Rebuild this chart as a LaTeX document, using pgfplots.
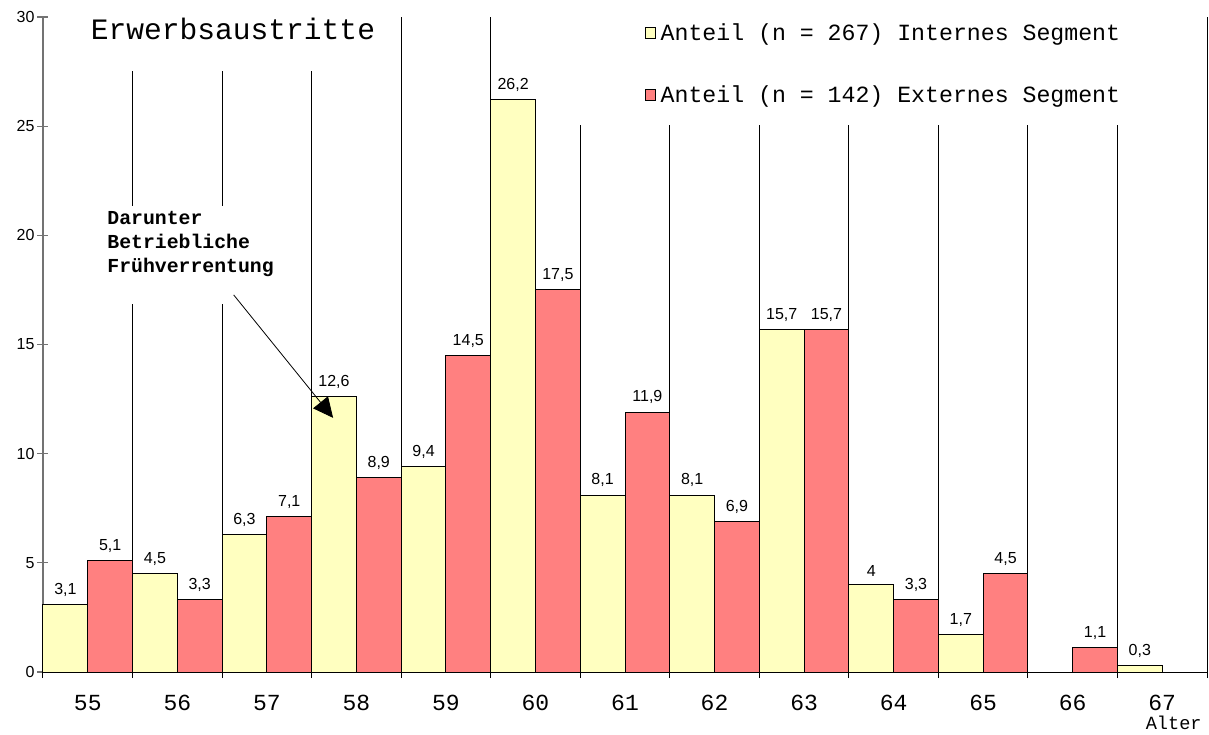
\documentclass[border=0pt]{standalone}
\usepackage{fontspec}
\setmainfont{Liberation Sans}
\newfontfamily\mono{Liberation Mono}
\usepackage{pgfplots}
\pgfplotsset{compat=1.18}
\usetikzlibrary{arrows.meta}
\definecolor{gelb}{RGB}{255,255,192}
\definecolor{rot}{RGB}{255,128,128}
\begin{document}
\begin{tikzpicture}
\begin{axis}[
  scale only axis, width=582pt, height=327.5pt,
  xmin=54.5, xmax=67.5, ymin=0, ymax=30,
  axis x line*=bottom, axis y line*=left,
  x axis line style={black, line width=0.5pt},
  y axis line style={black!55, line width=0.6pt},
  ybar, bar width=0.5,
  xtick={55,...,67},
  minor xtick={54.5,55.5,...,67.5},
  every major x tick/.append style={draw=none},
  every minor x tick/.append style={black, line width=0.5pt},
  xminorgrids,
  minor x grid style={black, line width=0.5pt},
  minor tick length=6pt,
  major tick length=5.5pt,
  tick align=center,
  ytick={0,5,...,30},
  every y tick/.append style={black!55, line width=0.6pt},
  /pgf/number format/assume math mode=true,
  /pgf/number format/use comma,
  xticklabel style={font=\mono\fontsize{11.5}{12}\selectfont, yshift=-5.3pt},
  yticklabel style={font=\fontsize{8}{8}\selectfont, xshift=2pt},
  nodes near coords,
  every node near coord/.append style={font=\fontsize{8}{8}\selectfont, yshift=0.5pt, black},
  clip=false,
]
% Internes Segment
\addplot[fill=gelb, draw=black, line width=0.5pt, bar shift=-0.25] coordinates {
  (55,3.1) (56,4.5) (57,6.3) (58,12.6) (59,9.4) (60,26.2)
  (61,8.1) (62,8.1) (63,15.7) (64,4) (65,1.7) (67,0.3)
};
% Externes Segment
\addplot[fill=rot, draw=black, line width=0.5pt, bar shift=0.25] coordinates {
  (55,5.1) (56,3.3) (57,7.1) (58,8.9) (59,14.5) (60,17.5)
  (61,11.9) (62,6.9) (63,15.7) (64,3.3) (65,4.5) (66,1.1)
};
% white boxes behind title, legend and note
\fill[white] (axis cs:54.58,30) rectangle (axis cs:58.43,27.53);
\fill[white] (axis cs:60.05,30) rectangle (axis cs:66.98,25.06);
\fill[white] (axis cs:55.14,21.35) rectangle (axis cs:57.2,16.86);

\node[anchor=base west, inner sep=0, font=\mono\fontsize{14.8}{15}\selectfont]
  at (axis cs:55.03,28.95) {Erwerbsaustritte};

% legend
\draw[fill=gelb, line width=0.5pt] (axis cs:61.226,29.5) rectangle (axis cs:61.338,29.0);
\draw[fill=rot, line width=0.5pt] (axis cs:61.226,26.66) rectangle (axis cs:61.338,26.16);
\node[anchor=base west, inner sep=0, font=\mono\fontsize{11.6}{12}\selectfont]
  at (axis cs:61.394,28.91) {Anteil (n = 267) Internes Segment};
\node[anchor=base west, inner sep=0, font=\mono\fontsize{11.6}{12}\selectfont]
  at (axis cs:61.394,26.07) {Anteil (n = 142) Externes Segment};

% note with arrow
\node[anchor=base west, inner sep=0, font=\mono\bfseries\fontsize{9.9}{12}\selectfont]
  at (axis cs:55.215,20.48) {Darunter};
\node[anchor=base west, inner sep=0, font=\mono\bfseries\fontsize{9.9}{12}\selectfont]
  at (axis cs:55.215,19.38) {Betriebliche};
\node[anchor=base west, inner sep=0, font=\mono\bfseries\fontsize{9.9}{12}\selectfont]
  at (axis cs:55.215,18.32) {Frühverrentung};
\draw[-{Triangle[length=10pt,width=9.5pt]}, line width=0.4pt]
  (axis cs:56.63,17.27) -- (axis cs:57.74,11.64);

\node[anchor=base east, inner sep=0, font=\mono\fontsize{9.3}{10}\selectfont]
  at ([xshift=-2.5pt,yshift=-28.6pt]rel axis cs:1,0) {Alter};

\coordinate (sw) at (rel axis cs:0,0);
\coordinate (ne) at (rel axis cs:1,1);
\end{axis}
\pgfresetboundingbox
\path[use as bounding box] ([xshift=-21.5pt,yshift=-31pt]sw) rectangle ([xshift=1pt,yshift=8.5pt]ne);
\end{tikzpicture}
\end{document}
